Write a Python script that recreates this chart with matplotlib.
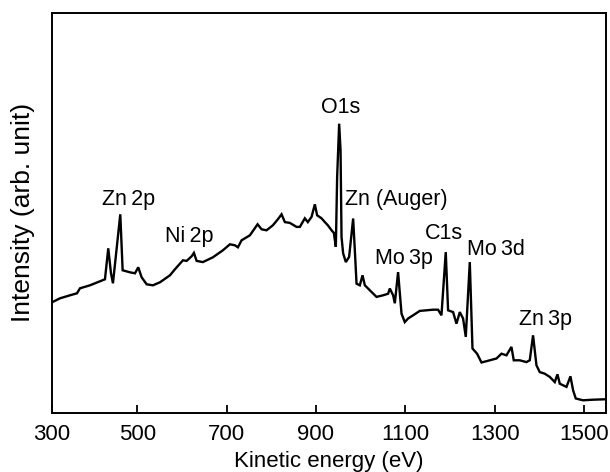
import matplotlib
matplotlib.use("Agg")
import matplotlib.pyplot as plt

plt.rcParams['font.family'] = ['Liberation Sans', 'DejaVu Sans']

energy = [309.2, 327.1, 349.4, 365.1, 371.8, 394.2, 416.5, 427.7, 435.1, 441.2,
          445.6, 462.0, 467.3, 483.7, 494.9, 502.2, 509.8, 521.0, 535.1, 550.8,
          573.2, 584.3, 602.2, 610.5, 621.7, 626.8, 632.9, 646.9, 669.3, 691.7,
          707.4, 718.6, 725.3, 733.5, 752.1, 769.3, 778.3, 789.4, 803.5, 814.7,
          823.0, 830.4, 841.6, 856.5, 864.0, 875.1, 881.8, 890.1, 897.5, 902.6,
          912.5, 919.9, 926.6, 934.9, 940.0, 944.5, 947.4, 951.9, 955.0, 957.2,
          960.8, 966.8, 974.2, 983.2, 987.0, 990.8, 998.2, 1004.2, 1009.4, 1020.6,
          1035.5, 1050.3, 1061.5, 1065.3, 1072.7, 1076.5, 1083.8, 1091.5, 1098.8, 1106.2,
          1117.4, 1132.4, 1147.4, 1162.1, 1173.3, 1180.9, 1190.5, 1195.7, 1206.9, 1214.5,
          1221.9, 1229.3, 1235.3, 1244.3, 1250.3, 1260.6, 1270.5, 1289.0, 1304.0, 1315.2,
          1326.4, 1337.5, 1342.7, 1356.1, 1371.1, 1378.5, 1385.9, 1393.5, 1400.9, 1412.1,
          1423.3, 1434.5, 1440.5, 1445.7, 1460.7, 1469.6, 1475.5, 1481.5, 1497.7, 1520.1,
          1546.3]
intensity = [27.75, 28.75, 29.5, 30.0, 31.25, 32.0, 33.0, 33.5, 41.25, 35.0,
             32.5, 49.75, 35.75, 35.25, 35.0, 36.5, 34.0, 32.25, 32.0, 32.75,
             34.5, 36.0, 38.25, 38.1, 39.25, 40.1, 38.1, 37.8, 39.0, 40.75,
             42.25, 42.0, 41.5, 43.25, 44.5, 47.25, 46.0, 45.75, 47.0, 48.5,
             49.75, 47.8, 47.6, 46.6, 46.6, 48.75, 47.8, 49.1, 52.25, 49.5,
             48.75, 47.8, 47.0, 45.75, 45.1, 41.6, 59.1, 72.4, 65.75, 44.1,
             40.0, 37.8, 39.1, 48.7, 40.75, 32.4, 32.0, 34.5, 32.0, 30.75,
             29.1, 29.5, 29.9, 31.2, 29.5, 27.5, 35.3, 24.9, 22.8, 23.7,
             24.5, 25.6, 25.75, 25.9, 25.9, 24.5, 40.3, 25.75, 25.3, 22.4,
             25.3, 23.7, 19.1, 37.8, 16.2, 14.9, 12.7, 13.25, 13.7, 14.9,
             14.5, 16.6, 13.25, 13.25, 12.8, 13.25, 19.5, 12.0, 10.3, 9.9,
             9.1, 7.8, 9.75, 7.4, 6.6, 9.25, 5.75, 3.7, 3.25, 3.4,
             3.5]

tick_values = [308.5, 500, 700, 900, 1100, 1300, 1500]
tick_labels = ['300', '500', '700', '900', '1100', '1300', '1500']

peak_labels = ['Zn\u20092p', 'Ni\u20092p', 'O1s', 'Zn (Auger)', 'Mo\u20093p', 'C1s', 'Mo\u20093d', 'Zn\u20093p']
peak_label_x = [481, 616, 955, 964, 1032, 1186, 1238, 1354]
peak_label_y = [52.0, 42.8, 75.0, 52.0, 37.3, 43.5, 39.5, 22.0]
peak_label_ha = ['center', 'center', 'center', 'left', 'left', 'center', 'left', 'left']

W, H = 610, 472
fig = plt.figure(figsize=(W / 100, H / 100), dpi=100)
ax = fig.add_axes([51.7 / W, (H - 413.3) / H, (605.7 - 51.7) / W, (413.3 - 12.5) / H])

ax.plot(energy, intensity, color='black', lw=1.7, solid_joinstyle='miter')
ax.set_xlim(308.5, 1548.5)
ax.set_ylim(0, 100.2)
ax.set_yticks([])
ax.set_xticks(tick_values)
ax.set_xticklabels(tick_labels)
ax.tick_params(axis='x', direction='in', length=6, width=1.3, labelsize=16, pad=8)
for s in ax.spines.values():
    s.set_linewidth(1.4)

for t, x, y, ha in zip(peak_labels, peak_label_x, peak_label_y, peak_label_ha):
    ax.text(x, y, t, ha=ha, va='baseline', fontsize=15.5,
            family=['Liberation Sans', 'DejaVu Sans'])

ax.set_xlabel('Kinetic energy (eV)', fontsize=16, labelpad=4)
ax.set_ylabel('Intensity (arb. unit)', fontsize=19, labelpad=12)

fig.savefig('out.png', dpi=100)
